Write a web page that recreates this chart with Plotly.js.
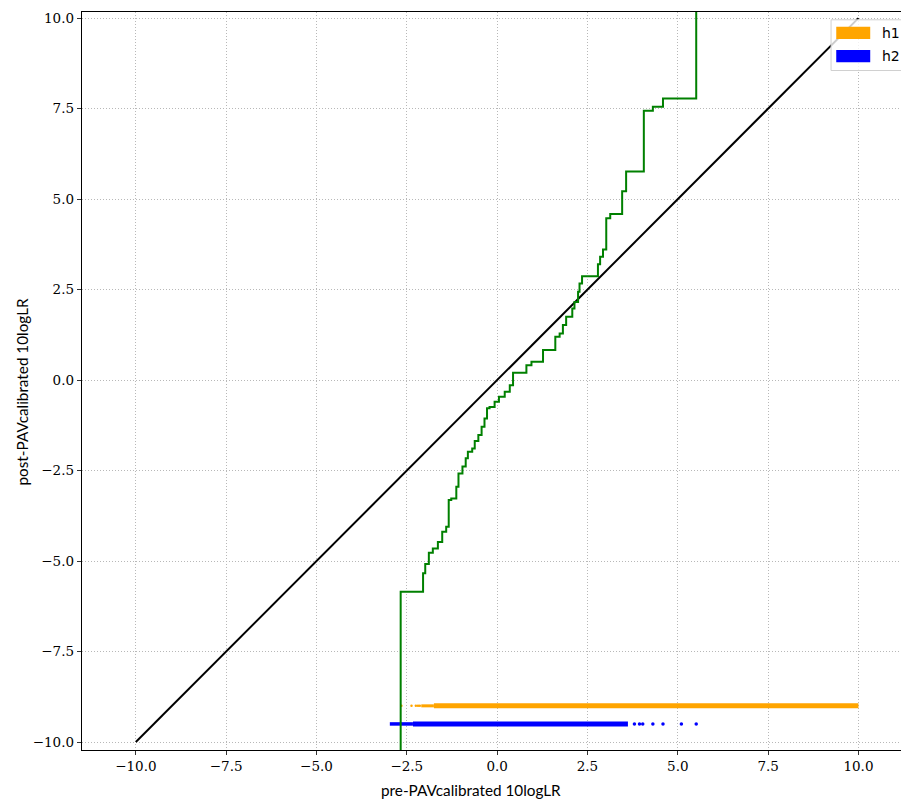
<!DOCTYPE html>
<html>
<head>
<meta charset="utf-8">
<script src="https://cdn.plot.ly/plotly-3.0.1.min.js"></script>
<style>
html,body{margin:0;padding:0;overflow:hidden;width:901px;height:801px;background:#fff;}
#chart{width:920px;height:801px;}
</style>
</head>
<body>
<div id="chart"></div>
<script>
// ---- data ----
// PAV step curve (x where the step rises, value after rising)
const pavX = [-2.67,-2.67,-2.05,-1.99,-1.89,-1.78,-1.64,-1.52,-1.41,-1.34,-1.27,-1.13,-1.07,-0.96,-0.87,-0.81,-0.69,-0.62,-0.52,-0.43,-0.35,-0.28,-0.21,-0.07,0.05,0.21,0.35,0.44,0.81,0.95,1.27,1.61,1.73,1.82,1.91,2.08,2.14,2.24,2.28,2.35,2.79,2.85,2.93,3.02,3.13,3.46,3.57,4.06,4.31,4.59,5.51];
const pavY = [-12,-5.85,-5.34,-5.08,-4.77,-4.65,-4.47,-4.19,-4.05,-3.31,-3.27,-2.95,-2.58,-2.39,-2.16,-1.98,-1.89,-1.68,-1.52,-1.29,-1.06,-0.78,-0.74,-0.60,-0.46,-0.32,-0.14,0.20,0.41,0.51,0.83,1.20,1.29,1.52,1.75,1.98,2.16,2.44,2.67,2.87,3.20,3.41,3.61,4.47,4.59,5.22,5.76,7.44,7.55,7.78,12];
// identity reference line
const diagX = [-10, 10];
const diagY = [-10, 10];
// h1 scores (orange), drawn at y = -9
const h1Level = -9.0;
const h1DenseX = [-1.75, 10.0];
const h1TaperX = [-2.10, -1.75];
const h1SparseX = [-2.65, -2.37, -2.25, -2.19, -2.14];
// h2 scores (blue), drawn at y = -9.5
const h2Level = -9.5;
const h2DenseX = [-2.33, 3.62];
const h2TaperX = [-2.97, -2.33];
const h2SparseX = [3.80, 3.94, 4.03, 4.31, 4.59, 5.10, 5.51];
// axes
const tickVals = [-10, -7.5, -5, -2.5, 0, 2.5, 5, 7.5, 10];
const xRange = [-11.49, 11.51];
const yRange = [-10.22, 10.17];
const xTitle = 'pre-PAVcalibrated 10logLR';
const yTitle = 'post-PAVcalibrated 10logLR';
const legendNames = ['h1', 'h2'];
const colH1 = '#ffa500', colH2 = '#0000ff';

const lvl = (arr, v) => arr.map(() => v);

const traces = [
  {x: h1TaperX, y: lvl(h1TaperX, h1Level), mode: 'lines', line: {color: colH1, width: 3}, hoverinfo: 'skip'},
  {x: h1DenseX, y: lvl(h1DenseX, h1Level), mode: 'lines', line: {color: colH1, width: 5}, hoverinfo: 'skip'},
  {x: h1SparseX, y: lvl(h1SparseX, h1Level), mode: 'markers', marker: {color: colH1, size: 2.5}},
  {x: h2TaperX, y: lvl(h2TaperX, h2Level), mode: 'lines', line: {color: colH2, width: 3.5}, hoverinfo: 'skip'},
  {x: h2DenseX, y: lvl(h2DenseX, h2Level), mode: 'lines', line: {color: colH2, width: 5}, hoverinfo: 'skip'},
  {x: h2SparseX, y: lvl(h2SparseX, h2Level), mode: 'markers', marker: {color: colH2, size: 3.5}},
  {x: diagX, y: diagY, mode: 'lines', line: {color: '#000000', width: 2}},
  {x: pavX, y: pavY, mode: 'lines', line: {color: '#008000', width: 2, shape: 'hv'}}
];

// pixel helpers for legend box and titles (layout decoration)
const L = 82, W = 831.5, B = 750, H = 738;
const px = v => (v - L) / W;
const py = v => (B - v) / H;

const shapes = [
  {type: 'rect', xref: 'paper', yref: 'paper', x0: px(831.5), x1: px(915), y0: py(70.5), y1: py(19.8),
   fillcolor: 'rgba(255,255,255,0.8)', line: {color: '#d0d0d0', width: 1}, layer: 'above'},
  {type: 'rect', xref: 'paper', yref: 'paper', x0: px(836.7), x1: px(870.7), y0: py(39), y1: py(26.7),
   fillcolor: colH1, line: {width: 0}, layer: 'above'},
  {type: 'rect', xref: 'paper', yref: 'paper', x0: px(836.7), x1: px(870.7), y0: py(62.3), y1: py(50),
   fillcolor: colH2, line: {width: 0}, layer: 'above'}
];
const annotations = [
  {xref: 'paper', yref: 'paper', x: px(880), y: py(32.5), xanchor: 'left', yanchor: 'middle', showarrow: false,
   text: legendNames[0], font: {family: 'DejaVu Sans', size: 14, color: '#000'}},
  {xref: 'paper', yref: 'paper', x: px(880), y: py(56), xanchor: 'left', yanchor: 'middle', showarrow: false,
   text: legendNames[1], font: {family: 'DejaVu Sans', size: 14, color: '#000'}},
  {xref: 'paper', yref: 'paper', x: px(471.5), y: py(790), xanchor: 'center', yanchor: 'middle', showarrow: false,
   text: xTitle, font: {family: 'Lato', size: 15.3, color: '#000'}},
  {xref: 'paper', yref: 'paper', x: px(22), y: py(391.5), xanchor: 'center', yanchor: 'middle', showarrow: false,
   textangle: -90, text: yTitle, font: {family: 'Lato', size: 15.3, color: '#000'}}
];

const axisCommon = {
  tickvals: tickVals, tickformat: '.1f',
  ticks: 'outside', ticklen: 4, tickwidth: 0.8, tickcolor: '#000',
  showline: true, linecolor: '#000', linewidth: 1.2, mirror: true,
  showgrid: true, gridcolor: '#b8b8b8', gridwidth: 1, griddash: '1px,2px',
  zeroline: false,
  tickfont: {family: 'DejaVu Serif', size: 13.5, color: '#000'}
};

const layout = {
  width: 920, height: 801,
  margin: {l: 82, r: 920 - 82 - 831.5, t: 12, b: 801 - 750},
  paper_bgcolor: '#fff', plot_bgcolor: '#fff',
  showlegend: false,
  xaxis: Object.assign({}, axisCommon, {range: xRange}),
  yaxis: Object.assign({}, axisCommon, {range: yRange}),
  shapes: shapes,
  annotations: annotations
};

Plotly.newPlot('chart', traces, layout, {displayModeBar: false, staticPlot: true});
</script>
</body>
</html>
